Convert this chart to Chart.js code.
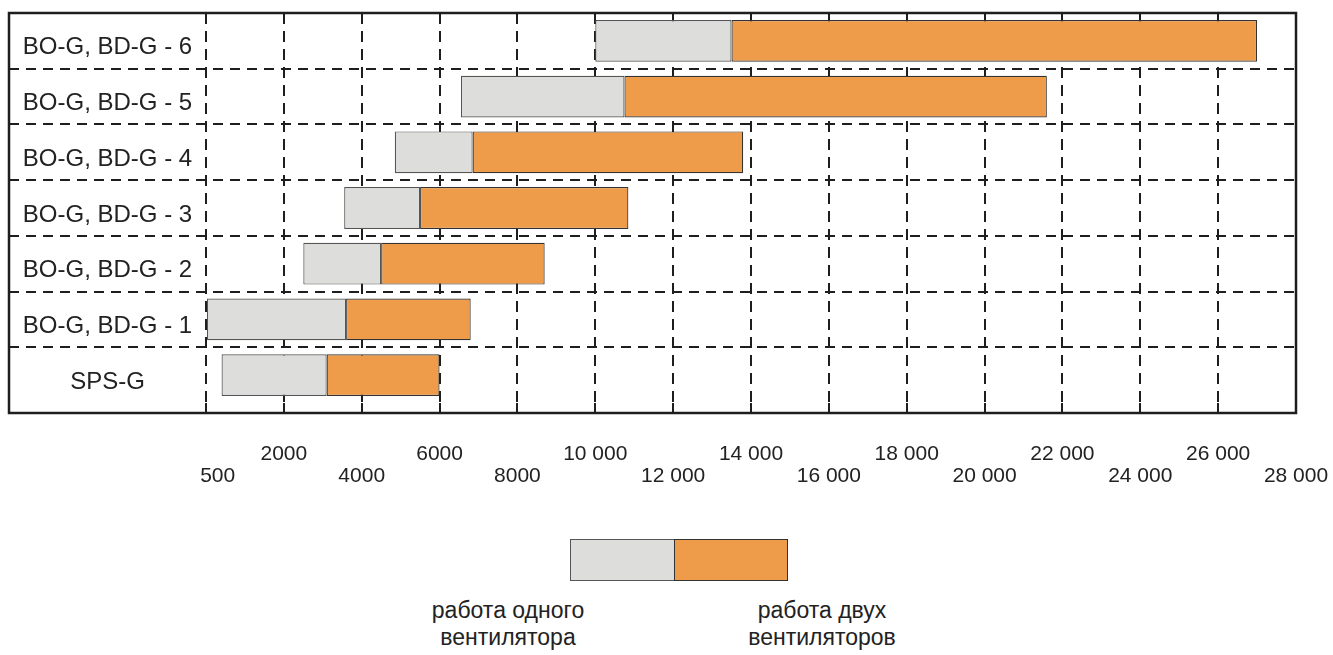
<!DOCTYPE html>
<html>
<head>
<meta charset="utf-8">
<title>BO-G, BD-G</title>
<script src="https://cdn.jsdelivr.net/npm/chart.js@4.4.0/dist/chart.umd.min.js"></script>
<style>
  body { margin: 0; background: #fff; font-family: "Liberation Sans", Arial, sans-serif; color: #222; }
  #wrap { position: relative; width: 1333px; height: 655px; }
  #chartBox { position: absolute; left: 0; top: 0; width: 1333px; height: 510px; }
  .key { position: absolute; top: 539px; height: 42px; box-sizing: border-box; border: 1.5px solid #555; }
  .keyText { position: absolute; top: 597px; width: 260px; text-align: center; font-size: 23px; line-height: 27px; }
</style>
</head>
<body>
<div id="wrap">
  <div id="chartBox"><canvas id="rangeChart"></canvas></div>
  <div class="key" id="keyOne" style="left:570px; width:105px"></div>
  <div class="key" id="keyTwo" style="left:674px; width:114px"></div>
  <div class="keyText" style="left:378px">работа одного<br>вентилятора</div>
  <div class="keyText" style="left:692px">работа двух<br>вентиляторов</div>
</div>
<script>
var categories = ['BO-G, BD-G - 6', 'BO-G, BD-G - 5', 'BO-G, BD-G - 4', 'BO-G, BD-G - 3',
                  'BO-G, BD-G - 2', 'BO-G, BD-G - 1', 'SPS-G'];
// один вентилятор: от .. до, два вентилятора: до
var oneFanFrom = [10000, 6550, 4850, 3550, 2500, 500, 800];
var twoFanFrom = [13500, 10750, 6850, 5500, 4500, 3600, 3100];
var twoFanTo = [27000, 21600, 13800, 10850, 8700, 6800, 6000];

var tickValues = [500, 2000, 4000, 6000, 8000, 10000, 12000, 14000, 16000, 18000, 20000, 22000, 24000, 26000, 28000];
var tickLabels = ['500', '2000', '4000', '6000', '8000', '10 000', '12 000', '14 000', '16 000', '18 000',
                  '20 000', '22 000', '24 000', '26 000', '28 000'];

var grisColor = '#dddddc';
var naranjaColor = '#ef9c4a';
var lineColor = '#1e1e1e';

document.getElementById('keyOne').style.background = grisColor;
document.getElementById('keyTwo').style.background = naranjaColor;
document.getElementById('keyTwo').style.borderColor = '#333';

// la escala del original no es lineal: cada división es un paso de tickValues
function toAxis(v) {
    for (var i = 0; i < tickValues.length - 1; i++) {
        if (v <= tickValues[i + 1]) {
            return i + (v - tickValues[i]) / (tickValues[i + 1] - tickValues[i]);
        }
    }
    return tickValues.length - 1;
}

var marcoYEtiquetas = {
    id: 'marcoYEtiquetas',
    afterDraw: function (chart) {
        var ctx = chart.ctx, a = chart.chartArea;
        var x = chart.scales.x, y = chart.scales.y;
        ctx.save();
        ctx.strokeStyle = lineColor;
        ctx.lineWidth = 2.5;
        ctx.strokeRect(a.left, a.top, a.right - a.left, a.bottom + 10 - a.top);
        ctx.fillStyle = '#222';
        ctx.font = '24px "Liberation Sans", Arial, sans-serif';
        ctx.textAlign = 'center';
        ctx.textBaseline = 'middle';
        var cx = (a.left + x.getPixelForValue(0)) / 2;
        categories.forEach(function (c, i) {
            ctx.fillText(c, cx, y.getPixelForValue(i) + 7);
        });
        ctx.restore();
    }
};

Chart.defaults.font.family = '"Liberation Sans", Arial, sans-serif';
Chart.defaults.color = '#222';

var ctx = document.getElementById('rangeChart').getContext('2d');
var chart = new Chart(ctx, {
    type: 'bar',
    data: {
        labels: categories,
        datasets: [{
            label: 'работа одного вентилятора',
            data: categories.map(function (c, i) { return [toAxis(oneFanFrom[i]), toAxis(twoFanFrom[i])]; }),
            backgroundColor: grisColor,
            borderColor: '#555',
            borderWidth: 1.2,
            borderSkipped: false,
            grouped: false,
            barPercentage: 0.75,
            categoryPercentage: 1
        }, {
            label: 'работа двух вентиляторов',
            data: categories.map(function (c, i) { return [toAxis(twoFanFrom[i]), toAxis(twoFanTo[i])]; }),
            backgroundColor: naranjaColor,
            borderColor: '#333',
            borderWidth: 1.2,
            borderSkipped: false,
            grouped: false,
            barPercentage: 0.75,
            categoryPercentage: 1
        }]
    },
    options: {
        indexAxis: 'y',
        responsive: true,
        maintainAspectRatio: false,
        animation: false,
        layout: { padding: { left: 9, right: 37, top: 13, bottom: 23 } },
        scales: {
            x: {
                type: 'linear',
                min: -2.53,
                max: 14,
                afterBuildTicks: function (scale) {
                    scale.ticks = tickValues.map(function (v, i) { return { value: i }; });
                },
                afterFit: function (scale) {
                    scale.height = 84;
                    scale.paddingLeft = 0;
                    scale.paddingRight = 0;
                },
                grid: {
                    color: lineColor,
                    lineWidth: 2,
                    tickLength: 10,
                    tickColor: lineColor,
                    tickWidth: 2,
                    tickBorderDash: [11, 7]
                },
                border: { display: false, dash: [11, 7] },
                ticks: {
                    autoSkip: false,
                    maxRotation: 0,
                    padding: 30,
                    color: '#222',
                    font: { size: 21, lineHeight: 1.05 },
                    callback: function (value) {
                        var t = tickLabels[value];
                        // en el original el 500 queda algo a la derecha de su línea
                        if (value === 0) t = '\u2007\u2007' + t;
                        return value % 2 ? [t, ''] : ['', t];
                    }
                }
            },
            y: {
                grid: {
                    color: function (c) { return c.index === undefined ? 'transparent' : lineColor; },
                    lineWidth: 2,
                    drawTicks: false
                },
                border: { display: false, dash: [10, 7] },
                ticks: { display: false },
                afterFit: function (scale) { scale.width = 0; }
            }
        },
        plugins: {
            legend: { display: false },
            tooltip: { enabled: false }
        }
    },
    plugins: [marcoYEtiquetas]
});
</script>
</body>
</html>
